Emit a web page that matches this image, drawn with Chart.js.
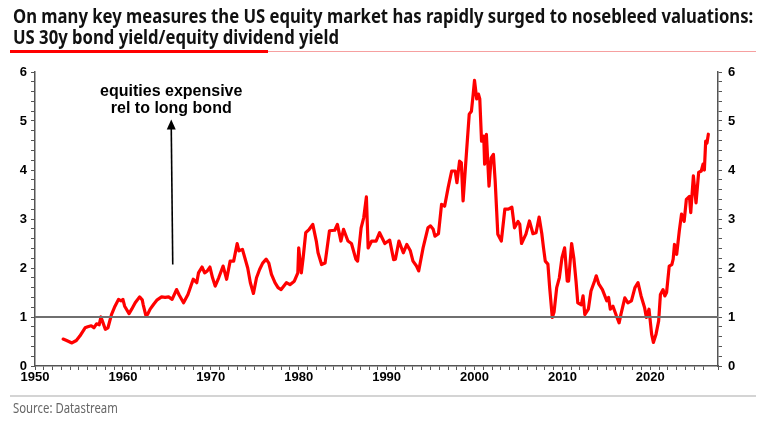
<!DOCTYPE html>
<html>
<head>
<meta charset="utf-8">
<script src="https://cdn.jsdelivr.net/npm/chart.js@4.4.1/dist/chart.umd.min.js"></script>
<style>
html, body { margin:0; padding:0; background:#fff; }
#wrap { position:relative; width:766px; height:424px; overflow:hidden; }
#chart { position:absolute; left:0; top:0; }
.title { position:absolute; left:13px; font-family:"Noto Sans", sans-serif; font-weight:700; font-size:19px; color:#111; white-space:nowrap; transform-origin:0 0; line-height:21px; }
#t1 { top:6px; }
#t2 { top:27px; }
#redbar { position:absolute; left:10px; top:50px; width:258px; height:3px; background:#ff0000; }
#pinkbar { position:absolute; left:268px; top:51px; width:488px; height:1px; background:#f6a0a0; }
#srcline { position:absolute; left:10px; top:395px; width:746px; height:2px; background:#d4d4d4; }
#source { position:absolute; left:13px; top:400px; font-family:"Noto Sans", sans-serif; font-size:13.5px; line-height:16px; color:#666; white-space:nowrap; transform-origin:0 0; }
</style>
</head>
<body>
<div id="wrap">
  <canvas id="chart" width="766" height="424"></canvas>
  <div class="title" id="t1">On many key measures the US equity market has rapidly surged to nosebleed valuations:</div>
  <div class="title" id="t2">US 30y bond yield/equity dividend yield</div>
  <div id="redbar"></div>
  <div id="pinkbar"></div>
  <div id="srcline"></div>
  <div id="source">Source: Datastream</div>
</div>
<script>
// data
var years = [
  1953.2,1953.6,1954.2,1954.7,1955.1,1955.7,1956.0,1956.4,1956.7,1957.0,1957.3,1957.5,1957.7,1958.0,1958.3,1958.7,1959.1,1959.5,1959.8,
  1960.0,1960.2,1960.7,1961.0,1961.4,1961.9,1962.2,1962.3,1962.6,1962.8,1963.1,1963.5,1963.9,1964.4,1964.8,1965.2,1965.6,1966.1,1966.4,1966.9,1967.4,1968.0,1968.4,1968.6,1969.0,1969.3,1969.6,1969.9,
  1970.2,1970.5,1970.9,1971.4,1971.8,1972.2,1972.6,1973.0,1973.2,1973.6,1974.2,1974.5,1974.85,1975.2,1975.55,1975.9,1976.3,1976.6,1976.9,1977.3,1977.65,1978.0,1978.6,1979.0,1979.5,1979.9,
  1980.0,1980.3,1980.5,1980.8,1981.2,1981.6,1982.0,1982.2,1982.6,1983.0,1983.5,1984.1,1984.4,1984.8,1985.1,1985.6,1986.0,1986.5,1986.7,1987.1,1987.4,1987.7,1987.9,1988.3,1988.8,1989.2,1989.8,
  1990.35,1990.8,1991.0,1991.4,1991.9,1992.3,1992.7,1993.0,1993.4,1993.65,1994.15,1994.7,1995.0,1995.3,1995.5,1995.9,1996.25,1996.6,1997.0,1997.4,1997.8,1998.0,1998.3,1998.5,1998.7,1999.1,1999.4,1999.65,1999.85,
  2000.0,2000.25,2000.45,2000.6,2000.8,2001.05,2001.15,2001.35,2001.65,2001.9,2002.15,2002.35,2002.65,2003.05,2003.45,2003.85,2004.25,2004.55,2004.95,2005.15,2005.35,2005.85,2006.25,2006.65,2007.0,2007.35,2007.65,2007.85,2008.05,2008.35,2008.55,2008.85,2009.05,2009.35,2009.65,2009.95,
  2010.25,2010.55,2010.7,2011.05,2011.3,2011.55,2011.75,2012.15,2012.35,2012.55,2012.95,2013.25,2013.65,2013.85,2014.15,2014.55,2015.05,2015.25,2015.45,2015.75,2016.15,2016.45,2016.65,2017.1,2017.45,2017.85,2018.25,2018.6,2018.95,2019.35,2019.55,2019.85,
  2020.15,2020.35,2020.65,2020.95,2021.15,2021.45,2021.65,2021.85,2022.15,2022.45,2022.6,2022.75,2023.0,2023.3,2023.55,2023.85,2024.1,2024.45,2024.6,2024.9,2025.2,2025.5,2025.8,2026.0,2026.15,2026.3,2026.45,2026.6
];
var ratio = [
  0.55,0.52,0.47,0.52,0.61,0.78,0.80,0.82,0.78,0.86,0.84,1.00,0.90,0.75,0.78,1.05,1.22,1.36,1.33,
  1.36,1.22,1.07,1.16,1.29,1.41,1.35,1.26,1.04,1.05,1.16,1.26,1.35,1.41,1.40,1.41,1.36,1.56,1.45,1.29,1.46,1.77,1.70,1.90,2.02,1.90,1.94,2.02,
  1.80,1.63,1.80,2.04,1.77,2.14,2.14,2.50,2.35,2.38,2.00,1.70,1.48,1.80,1.97,2.10,2.18,2.10,1.87,1.70,1.60,1.56,1.70,1.66,1.73,1.90,
  2.41,1.90,2.20,2.72,2.79,2.89,2.55,2.31,2.07,2.10,2.76,2.77,2.89,2.55,2.79,2.55,2.50,2.18,2.14,2.82,3.03,3.45,2.41,2.55,2.55,2.72,2.50,
  2.57,2.17,2.18,2.55,2.31,2.48,2.35,2.14,2.04,1.94,2.41,2.82,2.86,2.79,2.65,2.70,3.30,3.26,3.64,3.98,3.98,3.74,4.18,4.15,3.37,4.39,5.14,5.20,5.55,
  5.83,5.45,5.55,5.45,4.59,4.69,4.12,4.73,3.67,4.25,4.32,3.78,2.69,2.55,3.20,3.20,3.24,2.82,2.95,2.89,2.50,2.69,2.96,2.70,2.72,3.04,2.71,2.41,2.14,2.08,1.60,0.99,1.10,1.60,1.80,2.21,
  2.41,1.73,1.73,2.50,2.20,1.73,1.29,1.25,1.43,1.05,1.16,1.53,1.73,1.84,1.67,1.56,1.33,1.40,1.16,1.22,1.02,0.88,1.05,1.39,1.29,1.33,1.60,1.70,1.43,1.19,0.99,1.16,
  0.65,0.48,0.65,0.92,1.46,1.56,1.43,1.50,2.04,2.07,2.18,2.48,2.28,2.76,3.10,2.95,3.40,3.46,3.13,3.88,3.33,3.95,3.98,4.12,4.00,4.59,4.55,4.73
];
var xMin = 1950, xMax = 2027.7;
var yMin = 0, yMax = 6;
var refLevel = 1;
var noteLines = ["equities expensive", "rel to long bond"];

var points = years.map(function (y, i) { return { x: y, y: ratio[i] }; });

// arrow + text annotation, placed in data units
var noteX = 1965.5, noteTextY = [5.6, 5.26], arrowFrom = 2.07, arrowTo = 5.03;
var notePlugin = {
    id: 'note',
    afterDatasetsDraw: function (chart) {
        var c = chart.ctx, xs = chart.scales.x, ys = chart.scales.y;
        var px = xs.getPixelForValue(noteX);
        var y0 = ys.getPixelForValue(arrowFrom), y1 = ys.getPixelForValue(arrowTo);
        c.save();
        c.strokeStyle = '#000';
        c.fillStyle = '#000';
        c.lineWidth = 1.6;
        c.beginPath();
        c.moveTo(px + 1.5, y0);
        c.lineTo(px, y1 + 8);
        c.stroke();
        c.beginPath();
        c.moveTo(px, y1);
        c.lineTo(px - 4.5, y1 + 10);
        c.lineTo(px + 4.5, y1 + 10);
        c.closePath();
        c.fill();
        c.font = 'bold 16px "Liberation Sans", Arial, sans-serif';
        c.textAlign = 'center';
        c.textBaseline = 'middle';
        noteLines.forEach(function (t, i) {
            c.fillText(t, px, ys.getPixelForValue(noteTextY[i]));
        });
        c.restore();
    }
};

var isWhole = function (v) { return Math.abs(v - Math.round(v)) < 1e-6; };
var tickFont = { family: '"Liberation Sans", Arial, sans-serif', size: 13, weight: 'bold' };
var axisGrid = { drawOnChartArea: false, drawTicks: true, tickLength: 4, tickColor: '#555', tickWidth: 1 };
var axisBorder = { display: true, color: '#555', width: 1.5 };

var ctx = document.getElementById('chart').getContext('2d');
var myChart = new Chart(ctx, {
    type: 'line',
    data: {
        datasets: [
            {
                label: 'ref',
                data: [{ x: xMin, y: refLevel }, { x: xMax, y: refLevel }],
                borderColor: '#6f6f6f',
                borderWidth: 2,
                pointRadius: 0,
                order: 0
            },
            {
                label: 'US 30y bond yield/equity dividend yield',
                data: points,
                borderColor: '#ff0000',
                borderWidth: 3.2,
                borderJoinStyle: 'round',
                borderCapStyle: 'round',
                pointRadius: 0,
                tension: 0,
                order: 1
            }
        ]
    },
    options: {
        responsive: false,
        animation: false,
        layout: { padding: { top: 72, left: 0, right: 0, bottom: 0 } },
        plugins: { legend: { display: false }, tooltip: { enabled: false }, title: { display: false } },
        scales: {
            x: {
                type: 'linear', min: xMin, max: xMax,
                afterFit: function (s) { s.height = 58; },
                grid: axisGrid, border: axisBorder,
                ticks: {
                    stepSize: 1, autoSkip: false, maxRotation: 0, padding: 0,
                    color: '#000', font: tickFont,
                    callback: function (v) { return (Math.round(v) % 10 === 0) ? String(Math.round(v)) : ''; }
                }
            },
            y: {
                position: 'left', min: yMin, max: yMax,
                afterFit: function (s) { s.width = 35; },
                grid: axisGrid, border: axisBorder,
                ticks: {
                    stepSize: 0.2, autoSkip: false, padding: 4,
                    color: '#000', font: tickFont,
                    callback: function (v) { return isWhole(v) ? String(Math.round(v)) : ''; }
                }
            },
            y2: {
                position: 'right', min: yMin, max: yMax,
                afterFit: function (s) { s.width = 48; },
                grid: axisGrid, border: axisBorder,
                ticks: {
                    stepSize: 0.2, autoSkip: false, padding: 6,
                    color: '#000', font: tickFont,
                    callback: function (v) { return isWhole(v) ? String(Math.round(v)) : ''; }
                }
            }
        }
    },
    plugins: [notePlugin]
});

// squeeze title and source text to the widths in the picture
var fit = function (id, w) {
    var el = document.getElementById(id);
    el.style.transform = 'scaleX(' + (w / el.offsetWidth) + ')';
};
var k = 740 / document.getElementById('t1').offsetWidth;
document.getElementById('t1').style.transform = 'scaleX(' + k + ')';
document.getElementById('t2').style.transform = 'scaleX(' + k + ')';
fit('source', 105);
</script>
</body>
</html>
